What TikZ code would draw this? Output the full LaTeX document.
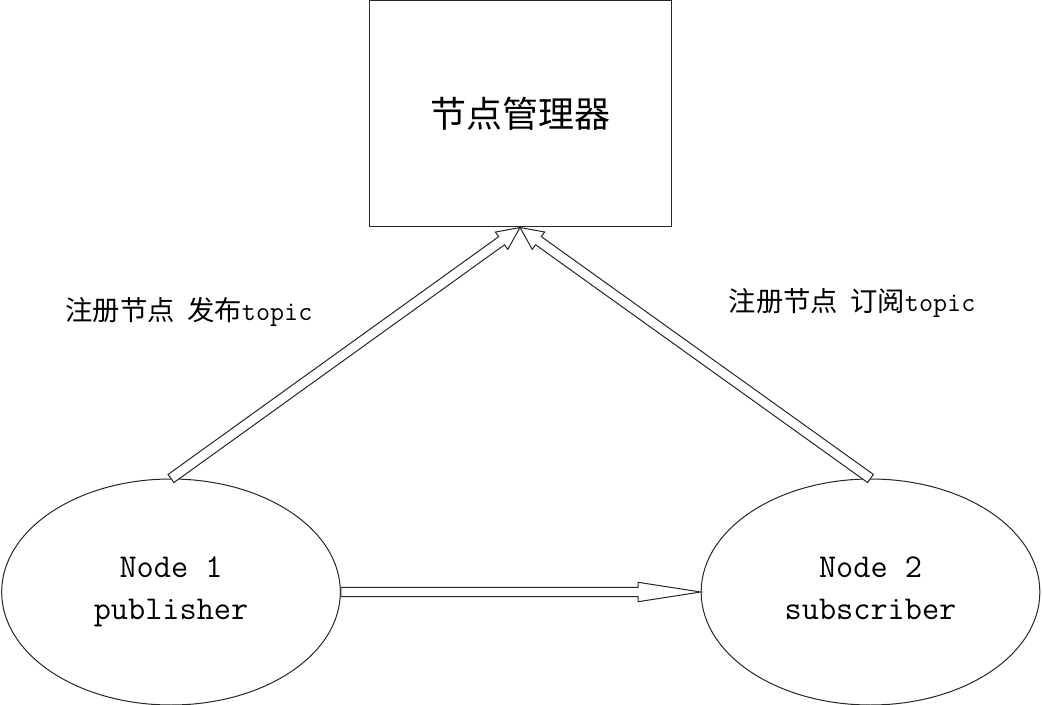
\documentclass[tikz,border=0pt]{standalone}
\usepackage{fontspec}
\newfontfamily\cjk{Noto Sans CJK SC}
\usetikzlibrary{calc,shapes.geometric}
\tikzset{
	mgrbox/.style={draw=black!85, line width=0.75pt, inner sep=0pt,
		minimum width=226.5pt, minimum height=169.5pt},
	rosnode/.style={draw=black!85, ellipse, line width=0.75pt, inner sep=0pt,
		minimum width=254pt, minimum height=169.5pt, align=center,
		font=\fontsize{25}{31.5}\selectfont\ttfamily},
	arrowline/.style={draw=black!85, line width=0.75pt, line join=miter, fill=white},
	steplabel/.style={font=\fontsize{20.5}{24}\selectfont\ttfamily, inner sep=0pt}
}
% hollow block arrow: from, to, shaft half width, head length, head half width
\newcommand{\hollowarrow}[5]{%
	\path[arrowline] let \p1=($(#2)-(#1)$), \n1={atan2(\y1,\x1)},
	\n2={veclen(\x1,\y1)} in [shift={(#1)}, rotate=\n1]
	(0pt,-#3) -- ({\n2-#4},-#3) -- ({\n2-#4},-#5) -- (\n2,0pt)
	-- ({\n2-#4},#5) -- ({\n2-#4},#3) -- (0pt,#3) -- cycle;}

\begin{document}
\begin{tikzpicture}[x=0.75pt, y=-0.75pt]
	\useasboundingbox (0,0) rectangle (1042,705);
	
	%% -- Manager box (top)
	\node[mgrbox] (mgr) at (520,114)
	{\fontsize{27}{32}\selectfont\cjk 节点管理器};
	
	%% -- Publisher and subscriber nodes
	\node[rosnode] (pub) at (171,592) {Node 1\\publisher};
	\node[rosnode] (sub) at (870.5,592) {Node 2\\subscriber\vphantom{p}};
	
	%% -- Registration arrows
	\hollowarrow{pub.north}{mgr.south}{3.75pt}{17pt}{8pt}
	\hollowarrow{sub.north}{mgr.south}{3.75pt}{17pt}{8pt}
	
	%% -- Topic data arrow
	\hollowarrow{pub.east}{sub.west}{3.5pt}{47pt}{7.3pt}
	
	%% -- Labels
	\node[steplabel] (publabel) at (189,312)
	{{\cjk 注册节点}\hspace{0.45em}{\cjk 发布}topic};
	\node[steplabel] (sublabel) at (852,303)
	{{\cjk 注册节点}\hspace{0.45em}{\cjk 订阅}topic};
	
\end{tikzpicture}
\end{document}
